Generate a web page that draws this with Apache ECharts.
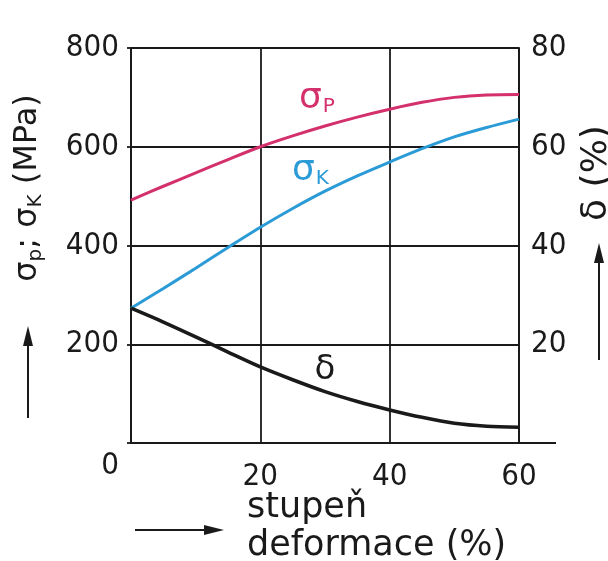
<!DOCTYPE html>
<html><head><meta charset="utf-8">
<script src="https://cdn.jsdelivr.net/npm/echarts@6/dist/echarts.min.js"></script>
<style>html,body{margin:0;padding:0;background:#fff}#c{width:608px;height:561px}</style>
</head><body><div id="c"></div>
<script>
var deformation = [0, 5, 10, 15, 20, 25, 30, 35, 40, 45, 50, 55, 60];
var sigmaP = [492, 520, 547, 574, 600, 622, 642, 660, 676, 690, 700, 705, 706];
var sigmaK = [273, 313, 354, 396, 437, 475, 510, 541, 569, 596, 620, 639, 656];
var delta = [27.3, 24.5, 21.5, 18.4, 15.4, 12.8, 10.4, 8.4, 6.7, 5.2, 4.0, 3.4, 3.2];
var xTicks = [0, 20, 40, 60];
var leftTicks = [0, 200, 400, 600, 800];
var rightTicks = [0, 20, 40, 60, 80];

var FONT = '"DejaVu Sans Condensed", "DejaVu Sans", sans-serif';
var TFONT = '"DejaVu Sans", sans-serif';
var INK = '#1a1a1a';
var MAG = '#d3306c';
var BLUE = '#2a9bd6';
var TICK_FS = 31;

function pairs(ys){ return deformation.map(function(x,i){return [x, ys[i]];}); }

var chart = echarts.init(document.getElementById('c'), null, {renderer:'canvas'});
var option = {
  backgroundColor: '#ffffff',
  animation: false,
  grid: {left: 131, right: 89, top: 48, bottom: 118, containLabel: false},
  xAxis: {
    type: 'value', min: 0, max: 60, interval: 20,
    axisLine: {show: true, onZero: false, lineStyle: {color: INK, width: 2}},
    axisTick: {show: false},
    splitLine: {show: true, lineStyle: {color: INK, width: 1.8}},
    axisLabel: {margin: 18, color: INK, fontFamily: FONT, fontSize: TICK_FS,
      formatter: function(v){ return v === 0 ? '' : String(v); }}
  },
  yAxis: [{
    type: 'value', min: 0, max: 800, interval: 200, position: 'left',
    axisLine: {show: true, lineStyle: {color: INK, width: 2}},
    axisTick: {show: true, length: 4, inside: false, lineStyle: {color: INK, width: 1.8}},
    splitLine: {show: true, lineStyle: {color: INK, width: 1.8}},
    axisLabel: {margin: 12, color: INK, fontFamily: FONT, fontSize: TICK_FS,
      formatter: function(v){ return v === 0 ? '' : String(v); }}
  }, {
    type: 'value', min: 0, max: 80, interval: 20, position: 'right',
    axisLine: {show: true, lineStyle: {color: INK, width: 2}},
    axisTick: {show: false},
    splitLine: {show: false},
    axisLabel: {margin: 12, color: INK, fontFamily: FONT, fontSize: TICK_FS,
      formatter: function(v){ return v === 0 ? '' : String(v); }}
  }],
  series: [
    {name: 'σP', type: 'line', yAxisIndex: 0, smooth: 0.3, symbol: 'none', data: pairs(sigmaP),
     lineStyle: {color: MAG, width: 3}},
    {name: 'σK', type: 'line', yAxisIndex: 0, smooth: 0.3, symbol: 'none', data: pairs(sigmaK),
     lineStyle: {color: BLUE, width: 3}},
    {name: 'δ', type: 'line', yAxisIndex: 1, smooth: 0.3, symbol: 'none', data: pairs(delta),
     lineStyle: {color: INK, width: 3.6}}
  ],
  graphic: [
    {type: 'line', shape: {x1: 519, y1: 443, x2: 556, y2: 443}, style: {stroke: INK, lineWidth: 2}},
    {type: 'text', x: 110, y: 466, style: {text: '0', font: TICK_FS + 'px ' + FONT, fill: INK, textAlign: 'center', textVerticalAlign: 'middle'}},
    {type: 'text', x: 299, y: 99, style: {
      text: '{s|σ}{b|P}', textVerticalAlign: 'middle',
      rich: {s: {fontSize: 36, fontFamily: TFONT, fill: MAG, color: MAG},
             b: {fontSize: 20, fontFamily: TFONT, fill: MAG, color: MAG, padding: [16, 0, 0, 1]}}}},
    {type: 'text', x: 292, y: 171, style: {
      text: '{s|σ}{b|K}', textVerticalAlign: 'middle',
      rich: {s: {fontSize: 36, fontFamily: TFONT, fill: BLUE, color: BLUE},
             b: {fontSize: 20, fontFamily: TFONT, fill: BLUE, color: BLUE, padding: [16, 0, 0, 1]}}}},
    {type: 'text', x: 325, y: 370, style: {text: 'δ', font: '34px ' + TFONT, fill: INK, textAlign: 'center', textVerticalAlign: 'middle'}},
    {type: 'text', x: 28, y: 188, rotation: Math.PI / 2, style: {
      text: '{s|σ}{b|p}{s|; σ}{b|K}{s| (MPa)}', textAlign: 'center', textVerticalAlign: 'middle',
      rich: {s: {fontSize: 32, fontFamily: TFONT, fill: INK, color: INK},
             b: {fontSize: 20, fontFamily: TFONT, fill: INK, color: INK, padding: [16, 0, 0, 0]}}}},
    {type: 'line', shape: {x1: 28, y1: 418, x2: 28, y2: 340}, style: {stroke: INK, lineWidth: 2}},
    {type: 'polygon', shape: {points: [[28, 326], [23, 346], [33, 346]]}, style: {fill: INK}},
    {type: 'text', x: 597, y: 173, rotation: Math.PI / 2, style: {
      text: 'δ (%)', font: '36px ' + TFONT, fill: INK, textAlign: 'center', textVerticalAlign: 'middle'}},
    {type: 'line', shape: {x1: 599, y1: 360, x2: 599, y2: 258}, style: {stroke: INK, lineWidth: 2}},
    {type: 'polygon', shape: {points: [[599, 243], [594, 263], [604, 263]]}, style: {fill: INK}},
    {type: 'line', shape: {x1: 135, y1: 530, x2: 210, y2: 530}, style: {stroke: INK, lineWidth: 2}},
    {type: 'polygon', shape: {points: [[224, 530], [204, 525], [204, 535]]}, style: {fill: INK}},
    {type: 'text', x: 247, y: 508, style: {text: 'stupeň', font: '35px ' + TFONT, fill: INK, textVerticalAlign: 'middle'}},
    {type: 'text', x: 247, y: 546, style: {text: 'deformace (%)', font: '35px ' + TFONT, fill: INK, textVerticalAlign: 'middle'}}
  ]
};
chart.setOption(option);
</script>
</body></html>
